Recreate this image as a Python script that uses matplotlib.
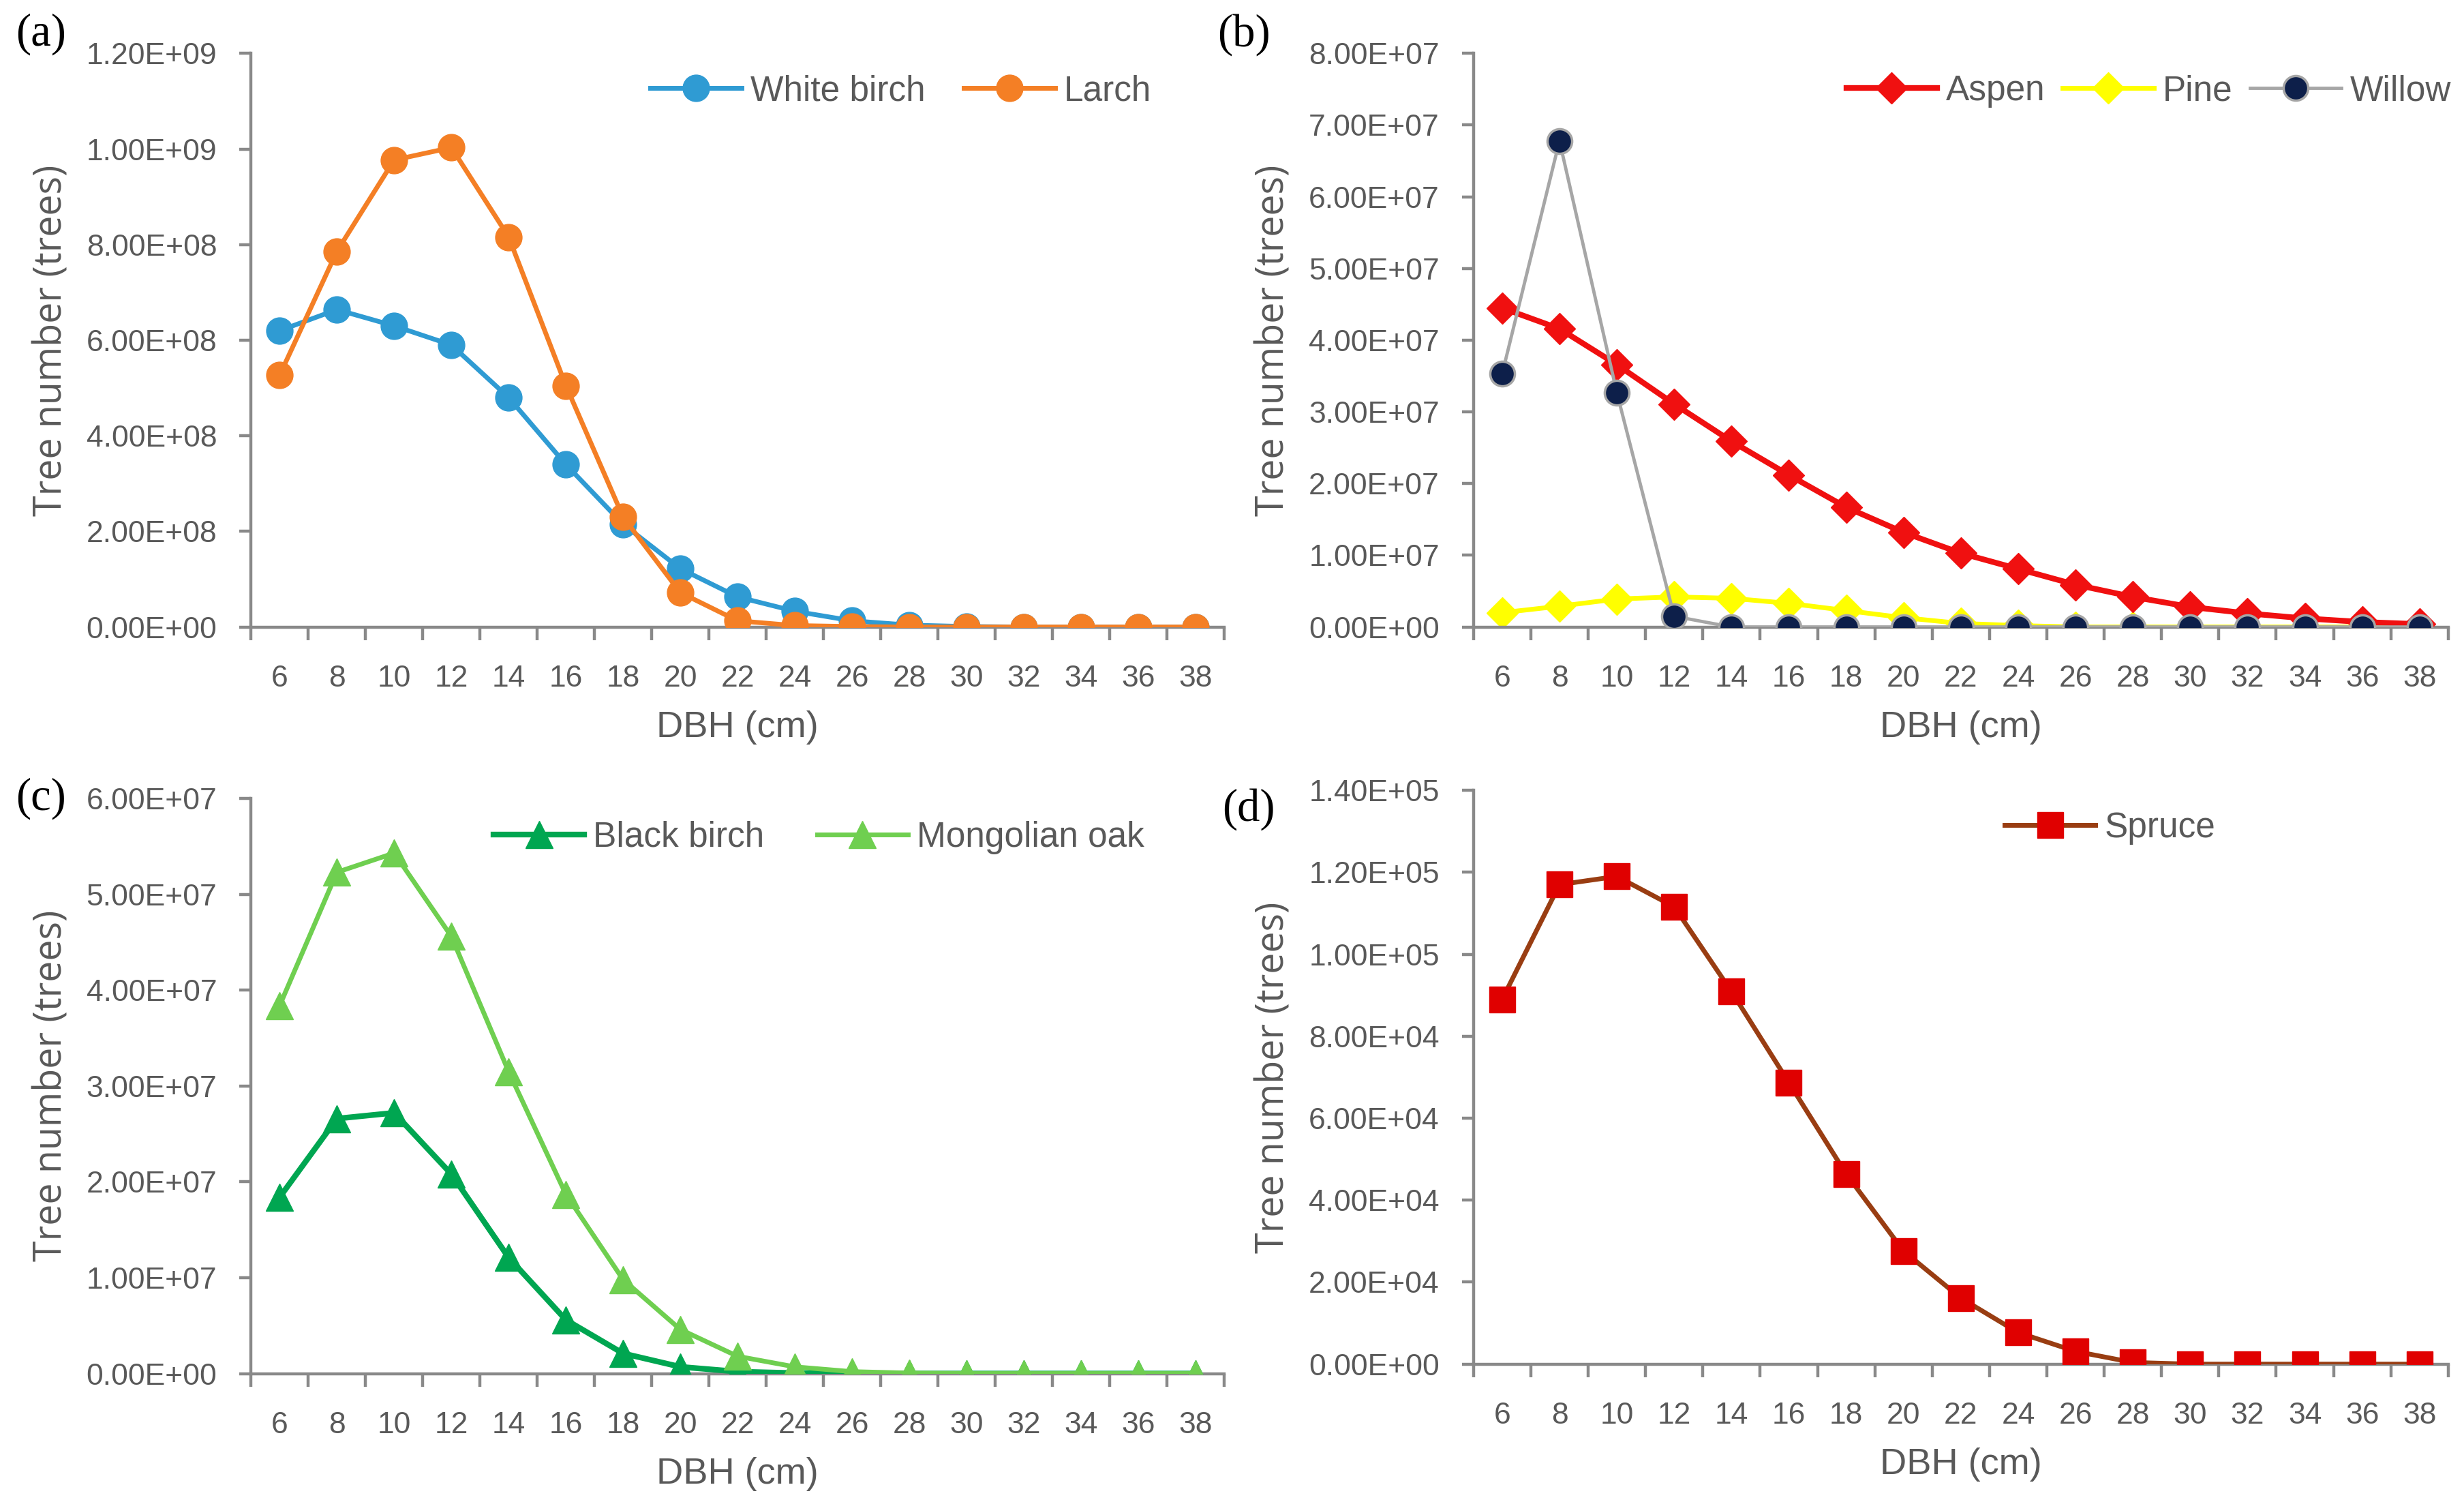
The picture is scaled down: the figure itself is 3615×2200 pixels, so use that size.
import matplotlib
matplotlib.use("Agg")
import matplotlib.pyplot as plt
from matplotlib.ticker import FixedLocator, FuncFormatter

plt.rcParams['font.family'] = ['Liberation Sans Narrow', 'Liberation Sans', 'DejaVu Sans']

# ---- data ----
dbh = [6, 8, 10, 12, 14, 16, 18, 20, 22, 24, 26, 28, 30, 32, 34, 36, 38]

white_birch = [6.20e8, 6.64e8, 6.30e8, 5.90e8, 4.80e8, 3.40e8, 2.15e8, 1.22e8, 6.3e7, 3.3e7,
               1.3e7, 4e6, 1e6, 0, 0, 0, 0]
larch = [5.27e8, 7.86e8, 9.77e8, 1.003e9, 8.16e8, 5.05e8, 2.30e8, 7.2e7, 1.3e7, 3e6,
         1e6, 0, 0, 0, 0, 0, 0]

aspen = [4.45e7, 4.16e7, 3.66e7, 3.11e7, 2.59e7, 2.12e7, 1.67e7, 1.32e7, 1.03e7, 8.1e6,
         5.9e6, 4.2e6, 2.8e6, 1.9e6, 1.2e6, 7e5, 4e5]
pine = [2.0e6, 2.9e6, 3.9e6, 4.2e6, 4.0e6, 3.3e6, 2.3e6, 1.3e6, 5e5, 2e5,
        0, 0, 0, 0, 0, 0, 0]
willow = [3.53e7, 6.78e7, 3.27e7, 1.5e6, 0, 0, 0, 0, 0, 0,
          0, 0, 0, 0, 0, 0, 0]

black_birch = [1.84e7, 2.66e7, 2.72e7, 2.08e7, 1.21e7, 5.6e6, 2.1e6, 7e5, 2e5, 5e4,
               0, 0, 0, 0, 0, 0, 0]
mongolian_oak = [3.84e7, 5.23e7, 5.43e7, 4.56e7, 3.15e7, 1.87e7, 9.8e6, 4.6e6, 1.8e6, 7e5,
                 2e5, 5e4, 0, 0, 0, 0, 0]

spruce = [8.9e4, 1.17e5, 1.19e5, 1.116e5, 9.09e4, 6.87e4, 4.64e4, 2.76e4, 1.61e4, 7.7e3,
          3.1e3, 4e2, 0, 0, 0, 0, 0]

GRAY = '#898989'
TXT = '#595959'
TICK_FS = 32
LAB_FS = 40
LEG_FS = 37


def style_axes(ax, ymax, ystep):
    n = len(dbh)
    pos = list(range(n))
    ax.set_xlim(-0.5, n - 0.5)
    ax.set_ylim(0, ymax)
    for s in ['top', 'right']:
        ax.spines[s].set_visible(False)
    for s in ['left', 'bottom']:
        ax.spines[s].set_color(GRAY)
        ax.spines[s].set_linewidth(3.2)
    ax.xaxis.set_major_locator(FixedLocator(pos))
    ax.set_xticklabels([str(d) for d in dbh])
    ax.xaxis.set_minor_locator(FixedLocator([p - 0.5 for p in pos] + [n - 0.5]))
    ax.tick_params(axis='x', which='major', length=0, pad=40, labelsize=TICK_FS,
                   labelcolor=TXT)
    ax.tick_params(axis='x', which='minor', length=14, width=3.2, color=GRAY)
    yt = [i * ystep for i in range(int(round(ymax / ystep)) + 1)]
    ax.yaxis.set_major_locator(FixedLocator(yt))
    ax.yaxis.set_major_formatter(FuncFormatter(lambda v, p: '{:.2E}'.format(v)))
    ax.tick_params(axis='y', length=12, width=3.2, color=GRAY, pad=24,
                   labelsize=TICK_FS, labelcolor=TXT)
    ax.set_ylabel('Tree number (trees)', fontsize=LAB_FS, color=TXT,
                  family=['Open Sans', 'DejaVu Sans'])
    ax.yaxis.set_label_coords(-0.185, 0.5)
    ax.set_xlabel('DBH (cm)', fontsize=39, color=TXT)
    ax.xaxis.set_label_coords(0.5, -0.145)
    ax.set_facecolor('white')
    return pos


def add_legend(ax, x, y, ncol, colsp):
    leg = ax.legend(loc='center right', bbox_to_anchor=(x, y), ncol=ncol, frameon=False,
                    fontsize=LEG_FS, borderpad=0, borderaxespad=0, handlelength=2.6,
                    handletextpad=0.25, columnspacing=colsp, labelcolor=TXT)
    return leg


fig = plt.figure(figsize=(36.15, 22), dpi=100)
fig.patch.set_facecolor('white')

# (a)
ax_a = fig.add_axes([0.1019, 0.582, 0.3949, 0.3824])
x = style_axes(ax_a, 1.2e9, 2e8)
ax_a.plot(x, white_birch, color='#2f9bd3', lw=5, marker='o', ms=28, label='White birch',
          zorder=3)
ax_a.plot(x, larch, color='#f47f25', lw=5, marker='o', ms=28, label='Larch', zorder=4)
add_legend(ax_a, 0.925, 0.934, 2, 1.1)

# (b)
ax_b = fig.add_axes([0.598, 0.582, 0.3956, 0.3824])
x = style_axes(ax_b, 8e7, 1e7)
ax_b.plot(x, aspen, color='#f01010', lw=6, marker='D', ms=23, label='Aspen', zorder=3)
ax_b.plot(x, pine, color='#ffff00', lw=5, marker='D', ms=23, label='Pine', zorder=2)
ax_b.plot(x, willow, color='#a6a6a6', lw=3.5, marker='o', ms=26, mfc='#0d1f4a',
          mec='#a6a6a6', mew=2.5, label='Willow', zorder=4)
add_legend(ax_b, 1.003, 0.934, 3, 0.5)

# (c)
ax_c = fig.add_axes([0.1019, 0.0843, 0.3949, 0.3834])
x = style_axes(ax_c, 6e7, 1e7)
ax_c.plot(x, black_birch, color='#00a651', lw=6, marker='^', ms=29, label='Black birch',
          zorder=3)
ax_c.plot(x, mongolian_oak, color='#6fcf50', lw=5, marker='^', ms=29, label='Mongolian oak',
          zorder=4)
add_legend(ax_c, 0.918, 0.932, 2, 1.5)

# (d)
ax_d = fig.add_axes([0.598, 0.0906, 0.3956, 0.3825])
x = style_axes(ax_d, 1.4e5, 2e4)
ax_d.plot(x, spruce, color='#993d12', lw=5, marker='s', ms=27, mfc='#e00000', mec='#e00000',
          label='Spruce', zorder=3)
add_legend(ax_d, 0.761, 0.934, 1, 1.0)

# panel letters
for lab, px, py in [('(a)', 0.0064, 0.977), ('(b)', 0.494, 0.977),
                    ('(c)', 0.0064, 0.4677), ('(d)', 0.496, 0.4605)]:
    fig.text(px, py, lab, fontsize=48, family=['Liberation Serif', 'DejaVu Serif'],
             ha='left', va='center', color='black')

fig.savefig('out.png', dpi=100, facecolor='white')
